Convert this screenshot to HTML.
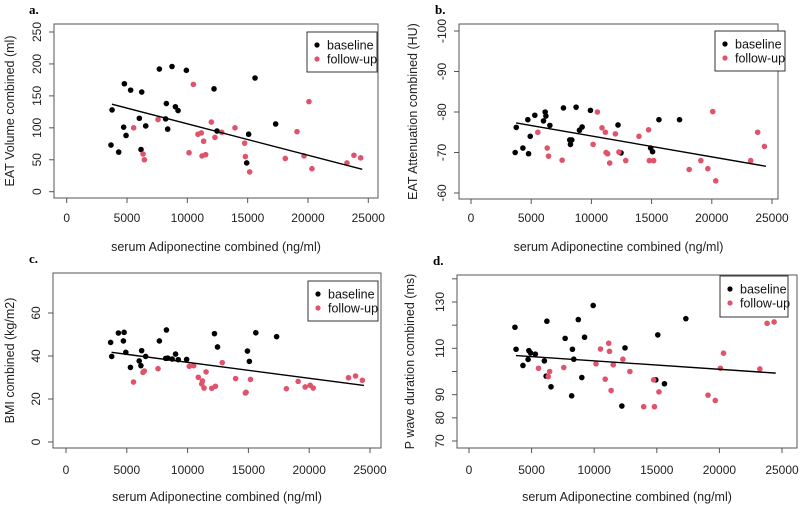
<!DOCTYPE html>
<html><head><meta charset="utf-8"><style>
body{margin:0;background:#fff;}
svg{display:block;font-family:"Liberation Sans",Arial,sans-serif;}
</style></head><body>
<svg id="fig" width="800" height="505" viewBox="0 0 800 505"></svg>
<script>
// shared x values (serum adiponectin, ng/ml)
const baseX = [3670,3760,4310,4720,4780,4920,5300,6020,6160,6220,6550,7680,8200,8260,8370,8730,9010,9230,9920,12210,12460,14920,15080,15610,17320];
const fupX = [5550,6330,6440,7570,10140,10500,10880,11160,11220,11350,11520,11990,12290,12850,13950,14750,14810,15170,18120,19090,19670,20080,20330,23230,23810,24370];
// panel a: EAT volume
const aBase = [73,128,62,101,169,88,159,115,66,156,103,192,114,138,98,196,133,127,190,161,95,45,90,178,106];
const aFup = [100,59,50,113,61,168,90,92,56,79,58,109,85,93,100,76,55,31,52,94,56,141,36,45,57,53];
// panel b: EAT attenuation
const bBase = [-70,-76.2,-71.1,-78.1,-69.7,-74,-79.2,-77.8,-80,-79,-76.7,-81,-73.1,-72,-73.1,-81.2,-75.5,-76.3,-80.4,-76.8,-69.9,-71.1,-70.2,-78.1,-78.1];
const bFup = [-75,-71.1,-69.1,-68.1,-72,-80,-76.1,-75,-70,-69.7,-67.4,-74.6,-70.1,-68,-74,-75.6,-68,-68,-65.8,-68,-66,-80.1,-63,-68,-75,-71.5];
// panel c: BMI
const cBase = [46.3,39.8,50.7,47,51,41.7,34.7,37.7,35.5,42.5,39.8,47,38.9,52.1,39,38.6,40.9,38.3,38.4,50.4,44.2,42.3,37.5,50.8,49];
const cFup = [27.9,32.4,33,34.1,35.2,35.5,30.1,27,28.4,25.1,32.6,25,25.9,36.9,29.5,22.8,23.1,29.1,24.8,28.2,25.6,26.4,25.1,29.9,30.7,28.7];
// panel d: P wave duration
const dBase = [119.1,109.6,102.6,105.2,109,108,107.5,104.6,98,121.7,93.4,114.3,89.5,109.6,105.3,122.4,97.4,114.8,128.5,85.1,110.2,96.4,115.8,94.7,122.8];
const dFup = [101.4,97.8,100,101.7,103.3,109.7,96.7,112.2,108.7,91.8,102.9,null,105.3,100,84.8,96.4,84.8,91.2,null,89.8,87.5,101.4,107.9,101.1,120.8,121.4];
// regression line endpoints [x0,y0,x1,y1]
const aFit = [3750,137,24500,35];
const bFit = [3750,-77.3,24500,-66.6];
const cFit = [3750,41.7,24500,26.3];
const dFit = [3750,106.9,24500,99.3];
const xTicks = [0,5000,10000,15000,20000,25000];
const aTicks = [0,50,100,150,200,250];
const bTicks = [-100,-90,-80,-70,-60];
const cTicks = [0,20,40,60];
const dTicks = [70,80,90,100,110,120,130,140];
const dLabels = ["70","80","90","","110","","130",""];

const NS="http://www.w3.org/2000/svg";
const svg=document.getElementById('fig');
function mk(tag,attrs,parent,txt){const e=document.createElementNS(NS,tag);for(const k in attrs)e.setAttribute(k,attrs[k]);if(txt!=null)e.textContent=txt;(parent||svg).appendChild(e);return e;}

const panels=[
 {id:'a',box:[54,24,378,198],x0:66.7,x1:368.3,yv0:0,yp0:191.7,yv1:250,yp1:32,ticks:aTicks,labels:null,base:aBase,fup:aFup,fit:aFit,ytitle:'EAT Volume combined (ml)',ytx:10,letter:'a.',lx:29,leg:[307,32,377,72],xlab:218,xt:247},
 {id:'b',box:[459,24,778,199],x0:471,x1:772,yv0:-100,yp0:31,yv1:-60,yp1:193,ticks:bTicks,labels:null,base:bBase,fup:bFup,fit:bFit,ytitle:'EAT Attenuation combined (HU)',ytx:413,letter:'b.',lx:435,leg:[715,31,785,71],xlab:218,xt:247},
 {id:'c',box:[53,273,381,448],x0:66,x1:370,yv0:0,yp0:442,yv1:60,yp1:313,ticks:cTicks,labels:null,base:cBase,fup:cFup,fit:cFit,ytitle:'BMI combined (kg/m2)',ytx:10,letter:'c.',lx:29,leg:[308,281,378,321],xlab:470,xt:497},
 {id:'d',box:[457,275,797,448],x0:469,x1:782,yv0:70,yp0:441,yv1:130,yp1:302,ticks:dTicks,labels:dLabels,base:dBase,fup:dFup,fit:dFit,ytitle:'P wave duration combined (ms)',ytx:410,letter:'d.',lx:433,leg:[720,276,788,317],xlab:470,xt:497}
];

panels.forEach(p=>{
 const g=mk('g',{});
 
 
 const sx=v=>p.x0+(v-0)/25000*(p.x1-p.x0);
 const sy=v=>p.yp0+(v-p.yv0)/(p.yv1-p.yv0)*(p.yp1-p.yp0);
 const [L,T,R,B]=p.box;
 const lt=mk('text',{x:p.lx,y:T-10,'font-family':'Liberation Serif,serif','font-weight':'bold','font-size':'13'},g,p.letter);
 
 
 const box=mk('rect',{x:L,y:T,width:R-L,height:B-T,fill:'none',stroke:'#555','stroke-width':1},g);
 
 
 const xa=mk('g',{},g);
 
 
 mk('line',{x1:sx(0),x2:sx(25000),y1:B,y2:B,stroke:'#555'},xa);
 xTicks.forEach(t=>{
  mk('line',{x1:sx(t),x2:sx(t),y1:B,y2:B+5,stroke:'#555'},xa);
  const tl=mk('text',{x:sx(t),y:p.xlab+4,'font-size':'12','text-anchor':'middle',fill:'#222'},xa,String(t));
  
  
 });
 const xt=mk('text',{x:(L+R)/2,y:p.xt+4,'font-size':'12.5','text-anchor':'middle',fill:'#222'},g,'serum Adiponectine combined (ng/ml)');
 
 
 const ya=mk('g',{},g);
 
 
 p.ticks.forEach((t,i)=>{
  const y=sy(t);
  mk('line',{x1:L-5,x2:L,y1:y,y2:y,stroke:'#555'},ya);
  const lab=p.labels?p.labels[i]:String(t);
  if(lab){
   const tl=mk('text',{x:0,y:0,'font-size':'12','text-anchor':'middle',fill:'#222',transform:`translate(${L-13},${y}) rotate(-90)`},ya,lab);
   
   
  }
 });
 const yt=mk('text',{x:0,y:0,'font-size':'12.5','text-anchor':'middle',fill:'#222',transform:`translate(${p.ytx+4},${(T+B)/2}) rotate(-90)`},g,p.ytitle);
 
 
 baseX.forEach((x,i)=>{const v=p.base[i];if(v==null)return;
  const c=mk('circle',{cx:sx(x),cy:sy(v),r:2.8,fill:'#000'},g);
  
  
 });
 fupX.forEach((x,i)=>{const v=p.fup[i];if(v==null)return;
  const c=mk('circle',{cx:sx(x),cy:sy(v),r:2.8,fill:'#DF536B'},g);
  
  
 });
 const f=p.fit;
 const ln=mk('line',{x1:sx(f[0]),y1:sy(f[1]),x2:sx(f[2]),y2:sy(f[3]),stroke:'#000','stroke-width':1.4},g);
 
 
 const [l0,t0,l1,t1]=p.leg;
 const lg=mk('g',{},g);
 
 
 mk('rect',{x:l0,y:t0,width:l1-l0,height:t1-t0,fill:'#fff',stroke:'#333','stroke-width':1},lg);
 const e1=mk('g',{},lg);
 
 
 mk('circle',{cx:l0+10,cy:t0+13,r:2.6,fill:'#000'},e1);
 mk('text',{x:l0+20,y:t0+17.5,'font-size':'12.5',fill:'#111'},e1,'baseline');
 const e2=mk('g',{},lg);
 
 
 mk('circle',{cx:l0+10,cy:t0+27,r:2.6,fill:'#DF536B'},e2);
 mk('text',{x:l0+20,y:t0+31.5,'font-size':'12.5',fill:'#111'},e2,'follow-up');
});
</script>
</body></html>
